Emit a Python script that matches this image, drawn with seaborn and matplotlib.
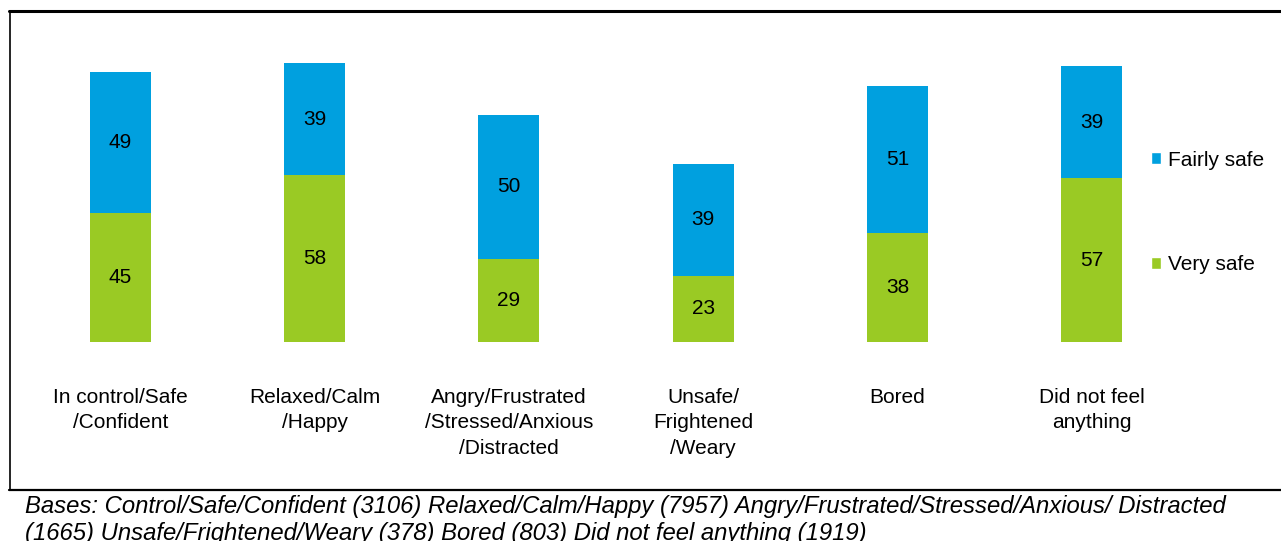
import matplotlib
matplotlib.use("Agg")
import matplotlib.pyplot as plt
from matplotlib.patches import Patch
import seaborn as sns
import pandas as pd

categories = [
    "In control/Safe\n/Confident",
    "Relaxed/Calm\n/Happy",
    "Angry/Frustrated\n/Stressed/Anxious\n/Distracted",
    "Unsafe/\nFrightened\n/Weary",
    "Bored",
    "Did not feel\nanything",
]
very_safe = [45, 58, 29, 23, 38, 57]
fairly_safe = [49, 39, 50, 39, 51, 39]
series_names = ["Fairly safe", "Very safe"]
footnote = ("Bases: Control/Safe/Confident (3106) Relaxed/Calm/Happy (7957) "
            "Angry/Frustrated/Stressed/Anxious/ Distracted\n"
            "(1665) Unsafe/Frightened/Weary (378) Bored (803) Did not feel anything (1919)")

BLUE = "#00A0DF"
GREEN = "#9ACA24"

sns.set_theme(style="white")
plt.rcParams["font.family"] = ["Liberation Sans", "DejaVu Sans"]

df = pd.DataFrame({
    "category": categories,
    "very": very_safe,
    "fairly": fairly_safe,
})
df["total"] = df["very"] + df["fairly"]

fig = plt.figure(figsize=(12.81, 5.41), dpi=100)
ax = fig.add_axes([0.0182, 0.3678, 0.9098, 0.5309])

# stacked bars: full height in blue, lower part in green on top of it
sns.barplot(data=df, x="category", y="total", color=BLUE, width=0.314,
            saturation=1, ax=ax, linewidth=0)
sns.barplot(data=df, x="category", y="very", color=GREEN, width=0.314,
            saturation=1, ax=ax, linewidth=0)

for i, (v, f) in enumerate(zip(very_safe, fairly_safe)):
    ax.text(i, v / 2, f"{v}", ha="center", va="center", fontsize=15, color="black")
    ax.text(i, v + f / 2, f"{f}", ha="center", va="center", fontsize=15, color="black")

ax.set_ylim(0, 100)
ax.set_xlim(-0.5, 5.5)
ax.set_xlabel("")
ax.set_ylabel("")
ax.set_yticks([])
sns.despine(ax=ax, left=True, bottom=True)
ax.tick_params(axis="x", length=0, pad=32.8, labelsize=15, labelcolor="black")
for lab in ax.get_xticklabels():
    lab.set_linespacing(1.44)
    lab.set_va("top")

handles = [Patch(facecolor=BLUE, label=series_names[0]),
           Patch(facecolor=GREEN, label=series_names[1])]
fig.legend(handles=handles, loc="center left", bbox_to_anchor=(0.8836, 0.6075),
           frameon=False, fontsize=15, handlelength=0.5, handleheight=0.5,
           handletextpad=0.35, labelspacing=4.1, labelcolor="black")

# frame around the chart and separator above the note
fig.add_artist(plt.Line2D([9 / 1281, 1.0], [1 - 11 / 541, 1 - 11 / 541],
                          color="black", lw=2.2, transform=fig.transFigure))
fig.add_artist(plt.Line2D([9.5 / 1281, 9.5 / 1281], [1 - 11 / 541, 1 - 490 / 541],
                          color="black", lw=1.2, transform=fig.transFigure))
fig.add_artist(plt.Line2D([9 / 1281, 1.0], [1 - 490 / 541, 1 - 490 / 541],
                          color="black", lw=1.6, transform=fig.transFigure))

fig.text(25 / 1281, 1 - 495.5 / 541, footnote, ha="left", va="top",
         fontsize=17.2, style="italic", linespacing=1.19, color="black")

fig.savefig("out.png", dpi=100)
